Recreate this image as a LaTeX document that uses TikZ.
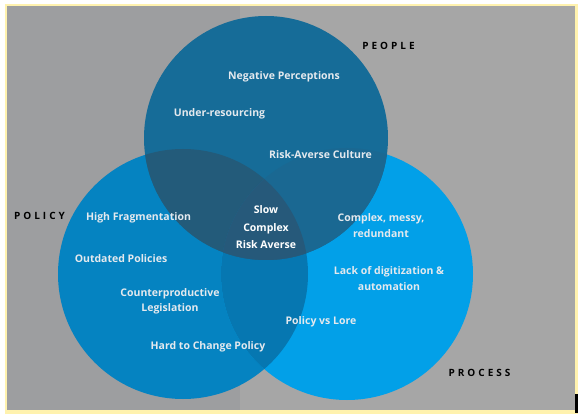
\documentclass[tikz,border=0pt]{standalone}
\usepackage{fontspec}
\setmainfont{Open Sans}
\definecolor{ylw}{HTML}{FFF2AE}
\definecolor{gryL}{HTML}{9D9EA0}
\definecolor{gryR}{HTML}{A6A6A6}
\definecolor{cPeo}{HTML}{166C98}
\definecolor{cPol}{HTML}{0583C1}
\definecolor{cPro}{HTML}{02A0E8}
\definecolor{cPeoPol}{HTML}{235B7A}
\definecolor{cPeoPro}{HTML}{1A6892}
\definecolor{cPolPro}{HTML}{0677B1}
\definecolor{cAll}{HTML}{26597A}
\definecolor{txt}{HTML}{E4E9EE}
\begin{document}
\begin{tikzpicture}[x=1pt,y=-1pt,
  item/.style={text=txt,font=\fontsize{10.5}{15.5}\selectfont\bfseries,align=center,inner sep=0pt},
  core/.style={text=white,font=\fontsize{10.5}{17.5}\selectfont\bfseries,align=center,inner sep=0pt},
  setname/.style={text=black,font=\fontsize{10}{12}\selectfont\bfseries\addfontfeature{LetterSpace=30},inner sep=0pt}]
\useasboundingbox (0,0) rectangle (582,417);
\fill[white] (0,0) rectangle (582,417);
\fill[ylw] (5,4) rectangle (578,414);
\fill[gryR] (7,6) rectangle (575,410);
\fill[gryL] (7,6) rectangle (240,410);
\fill[black] (575,394) rectangle (578,413);
% circles
\def\cpeo{(266,138) circle (122)}
\def\cpol{(183,274) circle (125)}
\def\cpro{(347,274) circle (126)}
\fill[cPol] \cpol;
\fill[cPro] \cpro;
\begin{scope}\clip \cpol; \fill[cPolPro] \cpro; \end{scope}
\fill[cPeo] \cpeo;
\begin{scope}\clip \cpeo; \fill[cPeoPol] \cpol; \fill[cPeoPro] \cpro;
  \clip \cpol; \fill[cAll] \cpro; \end{scope}
% set names
\node[setname] (people) at (388.5,46) {PEOPLE};
\node[setname] (policy) at (39.5,216) {POLICY};
\node[setname] (process) at (479.5,373) {PROCESS};
% items
\node[item] (neg) at (284,76.5) {Negative Perceptions};
\node[item] (under) at (219.5,113.5) {Under-resourcing};
\node[item] (rac) at (320.5,154.5) {Risk-Averse Culture};
\node[item] (frag) at (138.5,217.5) {High Fragmentation};
\node[item] (outd) at (121,258.5) {Outdated Policies};
\node[item] (counter) at (170,301.5) {Counterproductive\\Legislation};
\node[item] (hard) at (208,346.5) {Hard to Change Policy};
\node[item] (messy) at (381,225.5) {Complex, messy,\\redundant};
\node[item] (digit) at (389,278.5) {Lack of digitization \&\\automation};
\node[item] (lore) at (321,321.5) {Policy vs Lore};
\node[core] (core) at (266,227.5) {Slow\\Complex\\Risk Averse};
\end{tikzpicture}
\end{document}
